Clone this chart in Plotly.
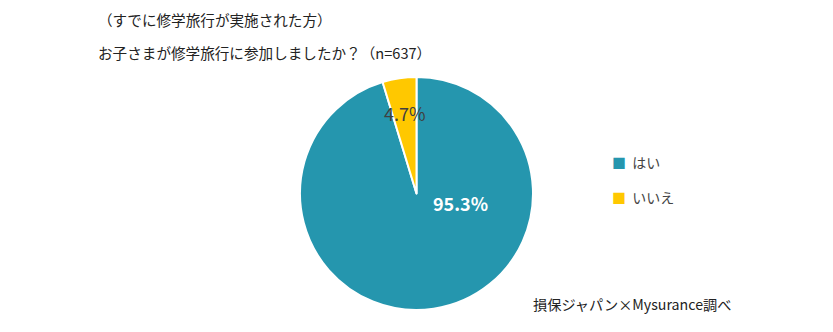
import plotly.graph_objects as go

labels = ["はい", "いいえ"]
values = [95.3, 4.7]
colors = ["#2596AE", "#FFC800"]
label_colors = ["#FFFFFF", "#404040"]
label_weights = ["bold", "normal"]
title_lines = ["（すでに修学旅行が実施された方）", "お子さまが修学旅行に参加しましたか？（n=637）"]
source = "損保ジャパン×Mysurance調べ"

FONT = "Noto Sans CJK JP"
W, H = 833, 332
T, B = 77, 22
PH = H - T - B


def px(x):
    return x / W


def py(y):
    return (H - B - y) / PH


fig = go.Figure(go.Pie(
    labels=labels,
    values=values,
    sort=False,
    direction="clockwise",
    rotation=0,
    marker=dict(colors=colors, line=dict(color="white", width=2)),
    textinfo="none",
    hoverinfo="label+percent",
    showlegend=False,
    domain=dict(x=[0, 1], y=[0, 1]),
))

annotations = [
    dict(text=title_lines[0], x=px(96), y=py(20), xanchor="left",
         font=dict(size=14.6, color="#222222", family=FONT)),
    dict(text=title_lines[1], x=px(96), y=py(52), xanchor="left",
         font=dict(size=14.6, color="#222222", family=FONT)),
    dict(text=source, x=px(531), y=py(304), xanchor="left",
         font=dict(size=14.2, color="#222222", family=FONT)),
]

# data labels
label_pos = [(460, 203), (405, 113)]
for v, c, w, (lx, ly) in zip(values, label_colors, label_weights, label_pos):
    annotations.append(dict(text=f"{v:.1f}%", x=px(lx), y=py(ly), xanchor="center",
                            font=dict(size=18, color=c, family=FONT, weight=w)))

# legend entries
legend_pos = [(610, 162), (610, 197)]
for lab, col, (lx, ly) in zip(labels, colors, legend_pos):
    annotations.append(dict(
        text=f"<span style='color:{col}'>■</span>  {lab}",
        x=px(lx), y=py(ly), xanchor="left",
        font=dict(size=14, color="#444444", family=FONT)))

for a in annotations:
    a.update(xref="paper", yref="paper", yanchor="middle", showarrow=False)

fig.update_layout(
    width=W, height=H,
    margin=dict(l=0, r=0, t=T, b=B),
    paper_bgcolor="white",
    font=dict(family=FONT, size=14, color="#333333"),
    annotations=annotations,
)

fig.write_html("out.html")
